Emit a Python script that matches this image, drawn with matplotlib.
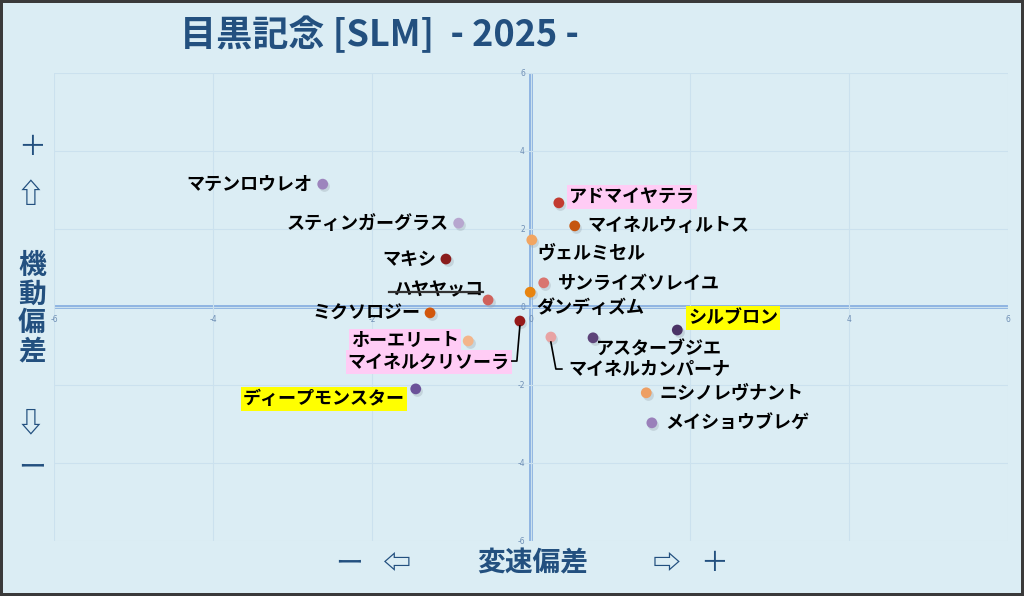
import matplotlib
matplotlib.use('Agg')
import matplotlib.pyplot as plt
import matplotlib.transforms as mtransforms
from matplotlib.lines import Line2D

plt.rcParams['font.family'] = ['Noto Sans CJK JP', 'DejaVu Sans']

# データ
names = ['マテンロウレオ', 'スティンガーグラス', 'マキシ', 'ハヤヤッコ', 'ミクソロジー',
         'ホーエリート', 'マイネルクリソーラ', 'ディープモンスター', 'アドマイヤテラ',
         'マイネルウィルトス', 'ヴェルミセル', 'サンライズソレイユ', 'ダンディズム',
         'シルブロン', 'アスターブジエ', 'マイネルカンパーナ', 'ニシノレヴナント', 'メイショウブレゲ']
speed_dev = [-2.62, -0.91, -1.07, -0.54, -1.27, -0.79, -0.14, -1.45, 0.35,
             0.55, 0.01, 0.16, -0.01, 1.84, 0.78, 0.25, 1.45, 1.52]
mobility_dev = [3.15, 2.15, 1.23, 0.18, -0.15, -0.87, -0.36, -2.10, 2.67,
                2.08, 1.72, 0.62, 0.38, -0.59, -0.79, -0.77, -2.20, -2.97]
colors = ['#9d85bd', '#b7a6cf', '#8a1c1c', '#d0625c', '#d2570c', '#f3b58a', '#961a1a',
          '#6b5299', '#c23b30', '#c5560f', '#f2a561', '#d9756f', '#e8840f', '#4a3366',
          '#5d4479', '#e8a3a3', '#ee9f63', '#9a80ba']
ticks = [-6, -4, -2, 0, 2, 4, 6]
x_tick_labels = [-6, -4, -2, 0, 4, 6]   # 2 はシルブロンの枠で隠れている

# ラベル配置 (dx, dy [px], ha, 背景色)
layout = {
    'マテンロウレオ': (-10, 0, 'right', None),
    'スティンガーグラス': (-10, 0, 'right', None),
    'マキシ': (-10, 0, 'right', None),
    'ハヤヤッコ': (-5, 10, 'right', None),
    'ミクソロジー': (-10, 0, 'right', None),
    'ホーエリート': (-9, 0, 'right', '#ffccf5'),
    'マイネルクリソーラ': (-10, -41, 'right', '#ffccf5'),
    'ディープモンスター': (-11, -10, 'right', '#ffff00'),
    'アドマイヤテラ': (10, 6, 'left', '#ffccf5'),
    'マイネルウィルトス': (13, 0, 'left', None),
    'ヴェルミセル': (6, -13, 'left', None),
    'サンライズソレイユ': (14, 0, 'left', None),
    'ダンディズム': (6, -15, 'left', None),
    'シルブロン': (11, 12, 'left', '#ffff00'),
    'アスターブジエ': (3, -11, 'left', None),
    'マイネルカンパーナ': (17, -32, 'left', None),
    'ニシノレヴナント': (13, 0, 'left', None),
    'メイショウブレゲ': (13, 0, 'left', None),
}
leaders = {
    'マイネルクリソーラ': [(0, -5), (-3, -40), (-8, -40)],
    'マイネルカンパーナ': [(0, -5), (5, -32), (11, -32)],
}

bg = '#dbedf4'
navy = '#23507f'

fig = plt.figure(figsize=(10.24, 5.96), dpi=100, facecolor=bg)
fig.patch.set_edgecolor('#3a3a3a')
fig.patch.set_linewidth(3)
ax = fig.add_axes([54 / 1024, 1 - 541 / 596, 954 / 1024, 468 / 596])
ax.set_facecolor(bg)
ax.set_xlim(-6, 6)
ax.set_ylim(-6, 6)
for s in ax.spines.values():
    s.set_visible(False)
ax.set_xticks(ticks)
ax.set_yticks(ticks)
ax.tick_params(length=0, labelbottom=False, labelleft=False)
ax.grid(True, color='#cbe1ee', linewidth=0.8)
ax.axhline(0, color='#8db3e2', linewidth=2.8, zorder=1)
ax.axvline(0, color='#8db3e2', linewidth=2.8, zorder=1)

# 軸上の目盛ラベル
for t in x_tick_labels:
    ax.annotate(str(t), (t, 0), xytext=(0, -12), textcoords='offset pixels',
                ha='center', va='center', fontsize=5.5, color='#6f8fb5', family='DejaVu Sans')
for t in ticks:
    ax.annotate(str(t), (0, t), xytext=(-6, 0), textcoords='offset pixels',
                ha='right', va='center', fontsize=5.5, color='#6f8fb5', family='DejaVu Sans')

# 点
ax.scatter([x + 0.02 for x in speed_dev], [y - 0.05 for y in mobility_dev],
           s=60, color='#9aa7b0', alpha=0.35, zorder=2, linewidths=0)
ax.scatter(speed_dev, mobility_dev, s=60, c=colors, zorder=3, linewidths=0)

texts = {}
for name, x, y in zip(names, speed_dev, mobility_dev):
    dx, dy, ha, box = layout[name]
    bbox = dict(boxstyle='square,pad=0.12', fc=box, ec='none') if box else None
    texts[name] = ax.annotate(name, (x, y), xytext=(dx, dy), textcoords='offset pixels',
                              ha=ha, va='center', fontsize=13, fontweight='bold',
                              color='black', bbox=bbox, zorder=4)
    if name in leaders:
        px, py = ax.transData.transform((x, y))
        xs = [px + p[0] for p in leaders[name]]
        ys = [py + p[1] for p in leaders[name]]
        fig.add_artist(Line2D(xs, ys, color='black', linewidth=1.2,
                              transform=mtransforms.IdentityTransform()))

# ハヤヤッコの取消線
fig.canvas.draw()
bb = texts['ハヤヤッコ'].get_window_extent()
ym = bb.y0 + bb.height * 0.40
fig.add_artist(Line2D([bb.x0 - 4, bb.x1], [ym, ym], color='#333333', linewidth=1.6,
                      transform=mtransforms.IdentityTransform()))

# タイトル
fig.text(180 / 1024, 1 - 35 / 596, '目黒記念 [SLM]  - 2025 -', fontsize=26,
         fontweight='bold', color=navy, ha='left', va='center')

# 軸タイトル
lab = dict(fontsize=20, fontweight='bold', color=navy, ha='center', va='center')
sym = dict(fontsize=20, fontweight='normal', color=navy, ha='center', va='center')
fig.text(32 / 1024, 1 - 147 / 596, '＋', **sym)
fig.text(30 / 1024, 1 - 195 / 596, '⇧', **lab)
fig.text(32 / 1024, 1 - 309 / 596, '機\n動\n偏\n差', linespacing=1.02, **lab)
fig.text(30 / 1024, 1 - 423 / 596, '⇩', **lab)
fig.text(32 / 1024, 1 - 467 / 596, 'ー', **sym)
fig.text(349 / 1024, 1 - 563 / 596, 'ー', **sym)
fig.text(397 / 1024, 1 - 563 / 596, '⇦', **lab)
fig.text(533 / 1024, 1 - 563 / 596, '変速偏差', **lab)
fig.text(667 / 1024, 1 - 563 / 596, '⇨', **lab)
fig.text(714 / 1024, 1 - 563 / 596, '＋', **sym)

fig.savefig('out.png', dpi=100, facecolor=bg, edgecolor='#3a3a3a')
